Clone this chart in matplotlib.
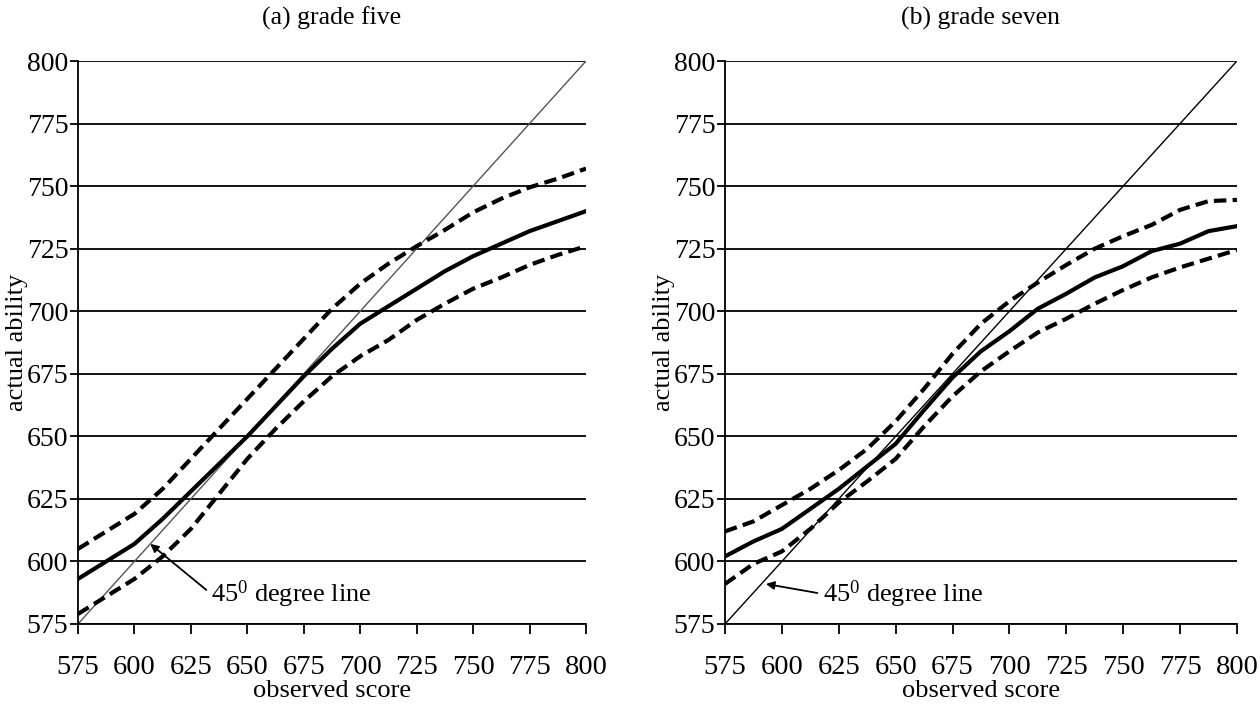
import numpy as np
import matplotlib
matplotlib.use("Agg")
import matplotlib.pyplot as plt

plt.rcParams['font.family'] = ['Liberation Serif', 'DejaVu Serif']
plt.rcParams['mathtext.fontset'] = 'custom'
plt.rcParams['mathtext.rm'] = 'Liberation Serif'
plt.rcParams['mathtext.it'] = 'Liberation Serif:italic'

# observed score grid (shared by both panels)
score = [575, 587.5, 600, 612.5, 625, 637.5, 650, 662.5, 675, 687.5,
         700, 712.5, 725, 737.5, 750, 762.5, 775, 787.5, 800]

# (a) grade five
g5_mean = [593, 600, 607, 617, 628, 639, 650, 662, 674, 685,
           695, 702, 709, 716, 722, 727, 732, 736, 740]
g5_upper = [605, 612, 619, 629, 641, 653, 665, 677, 689, 701,
            711, 719, 726, 732.5, 739.5, 745, 749.5, 753, 757]
g5_lower = [579, 586, 593, 602, 613, 627, 641, 653, 664, 674,
            682, 688.5, 696.5, 703, 709, 713.5, 718.5, 722.5, 726]

# (b) grade seven
g7_mean = [602, 608, 613, 621, 629, 638, 647, 660.5, 673.5, 684,
           692, 701, 707, 713.5, 718, 724, 727, 732, 734]
g7_upper = [612, 616, 622.5, 629, 636.5, 645, 656, 669, 683, 695,
            704, 711.5, 718.5, 725, 730, 734.5, 740.5, 744, 744.5]
g7_lower = [591, 599, 604, 613, 623.5, 632, 641, 654, 666, 676,
            684, 691.5, 697, 703, 708.5, 713.5, 717.5, 721, 724.5]

ticks = list(range(575, 801, 25))

panels = [
    ("(a) grade five", g5_mean, g5_upper, g5_lower, '#555555', (607, 607), (634, 587)),
    ("(b) grade seven", g7_mean, g7_upper, g7_lower, 'black', (593, 591), (618, 587)),
]

fig = plt.figure(figsize=(12.6, 7.11), dpi=100)
positions = [[0.0619, 0.1224, 0.4032, 0.7918], [0.5754, 0.1224, 0.4063, 0.7918]]

for pos, (title, mean, upper, lower, diag_col, arrow_xy, text_xy) in zip(positions, panels):
    ax = fig.add_axes(pos)
    for t in ticks:
        ax.axhline(t, color='black', lw=1.3, zorder=1)
    ax.plot(ticks, ticks, color=diag_col, lw=1.0, zorder=2)
    ax.plot(score, upper, color='black', lw=3.0, dashes=(3, 1.5), zorder=3)
    ax.plot(score, lower, color='black', lw=3.0, dashes=(3, 1.5), zorder=3)
    ax.plot(score, mean, color='black', lw=3.0, zorder=3)

    ax.set_xlim(575, 800)
    ax.set_ylim(575, 800)
    ax.set_xticks(ticks)
    ax.set_yticks(ticks)
    ax.spines['top'].set_visible(False)
    ax.spines['right'].set_visible(False)
    ax.spines['left'].set_linewidth(1.3)
    ax.spines['bottom'].set_linewidth(1.3)
    ax.tick_params(axis='x', direction='out', length=7, width=1.3, pad=15, labelsize=20.5)
    ax.tick_params(axis='y', direction='out', length=6, width=1.3, pad=1, labelsize=20)

    ax.set_title(title, fontsize=18.5, pad=26)
    ax.set_xlabel("observed score", fontsize=19, labelpad=0)
    ax.set_ylabel("actual ability", fontsize=19, labelpad=-1)

    ax.annotate("45$^{\\mathrm{0}}$ degree line", xy=arrow_xy, xytext=text_xy,
                fontsize=19, ha='left', va='center',
                arrowprops=dict(arrowstyle='-|>', color='black', lw=1.3,
                                mutation_scale=12, relpos=(0, 0.5),
                                shrinkA=2, shrinkB=0))

fig.savefig("out.png", dpi=100)
